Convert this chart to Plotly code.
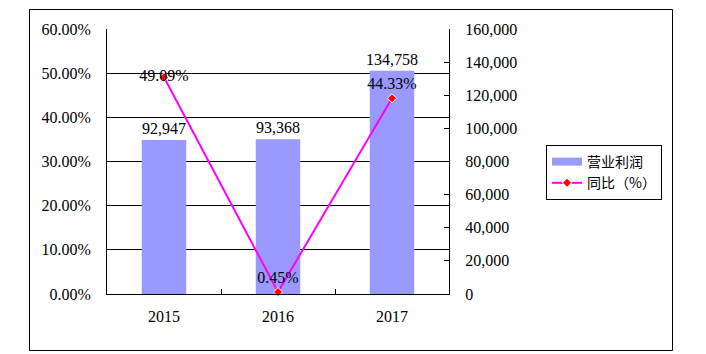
import plotly.graph_objects as go

years = ["2015", "2016", "2017"]
profit = [92947, 93368, 134758]
profit_labels = ["92,947", "93,368", "134,758"]
yoy = [0.4909, 0.0045, 0.4433]
yoy_labels = ["49.09%", "0.45%", "44.33%"]
grid_vals = [0.1, 0.2, 0.3, 0.4, 0.5]

W, H = 706, 354
L, R, T, B = 107, 449, 29, 294  # plot area pixels

FONT = "Liberation Serif"
CJK = "Noto Sans CJK SC"
BAR_COLOR = "#9999FF"

fig = go.Figure()
fig.add_trace(go.Bar(
    x=years, y=profit, name="营业利润", yaxis="y", showlegend=False,
    marker=dict(color=BAR_COLOR, line=dict(width=0)),
    text=profit_labels, textposition="outside", cliponaxis=False, constraintext="none",
    textfont=dict(family=FONT, size=16, color="black"),
))
# legend-only entry to show a wide bar swatch
fig.add_trace(go.Scatter(
    x=[None], y=[None], name="营业利润", yaxis="y", mode="lines",
    line=dict(color=BAR_COLOR, width=8), showlegend=True,
))
fig.add_trace(go.Scatter(
    x=years, y=yoy, name="同比（%）", yaxis="y2",
    mode="lines+markers+text",
    line=dict(color="#FF00FF", width=2),
    marker=dict(symbol="diamond", color="#FF0000", size=7, line=dict(color="white", width=1)),
    text=yoy_labels,
    textposition=["middle center", "top center", "top center"],
    textfont=dict(family=FONT, size=16, color="black"),
    cliponaxis=False,
))

def px2paper_x(px):
    return (px - L) / (R - L)

def px2paper_y(py):
    return (B - py) / (B - T)

fig.update_layout(
    width=W, height=H,
    margin=dict(l=L, r=W - R, t=T, b=H - B, pad=0),
    paper_bgcolor="white", plot_bgcolor="white",
    font=dict(family=FONT, size=16, color="black"),
    bargap=0.61,
    showlegend=True,
    legend=dict(
        xref="container", yref="container",
        x=546 / W, y=1 - 145 / H, xanchor="left", yanchor="top",
        bordercolor="black", borderwidth=1, bgcolor="white",
        font=dict(family=CJK, size=14),
        tracegroupgap=0, itemwidth=30,
    ),
    xaxis=dict(
        type="category", showline=True, linecolor="black", linewidth=1,
        ticks="inside", ticklen=5, tickcolor="black", tickson="boundaries",
        showgrid=False, ticklabelstandoff=8,
    ),
    yaxis=dict(
        side="right", range=[0, 160000], dtick=20000, tickformat=",",
        showline=True, linecolor="black", linewidth=1,
        ticks="inside", ticklen=5, tickcolor="black",
        showgrid=False, zeroline=False, ticklabelstandoff=12,
    ),
    yaxis2=dict(
        overlaying="y", side="left", range=[0, 0.6], dtick=0.1, tickformat=".2%",
        showline=True, linecolor="black", linewidth=1,
        ticks="inside", ticklen=5, tickcolor="black",
        showgrid=False, zeroline=False, ticklabelstandoff=12,
        minor=dict(tickvals=grid_vals, showgrid=True, gridcolor="black", gridwidth=1, ticklen=0),
    ),
    shapes=[dict(
        type="rect", xref="paper", yref="paper",
        x0=px2paper_x(29.5), x1=px2paper_x(672.5),
        y0=px2paper_y(350.5), y1=px2paper_y(9.5),
        line=dict(color="black", width=1), fillcolor="rgba(0,0,0,0)", layer="below",
    )],
)

fig.write_html("out.html")
